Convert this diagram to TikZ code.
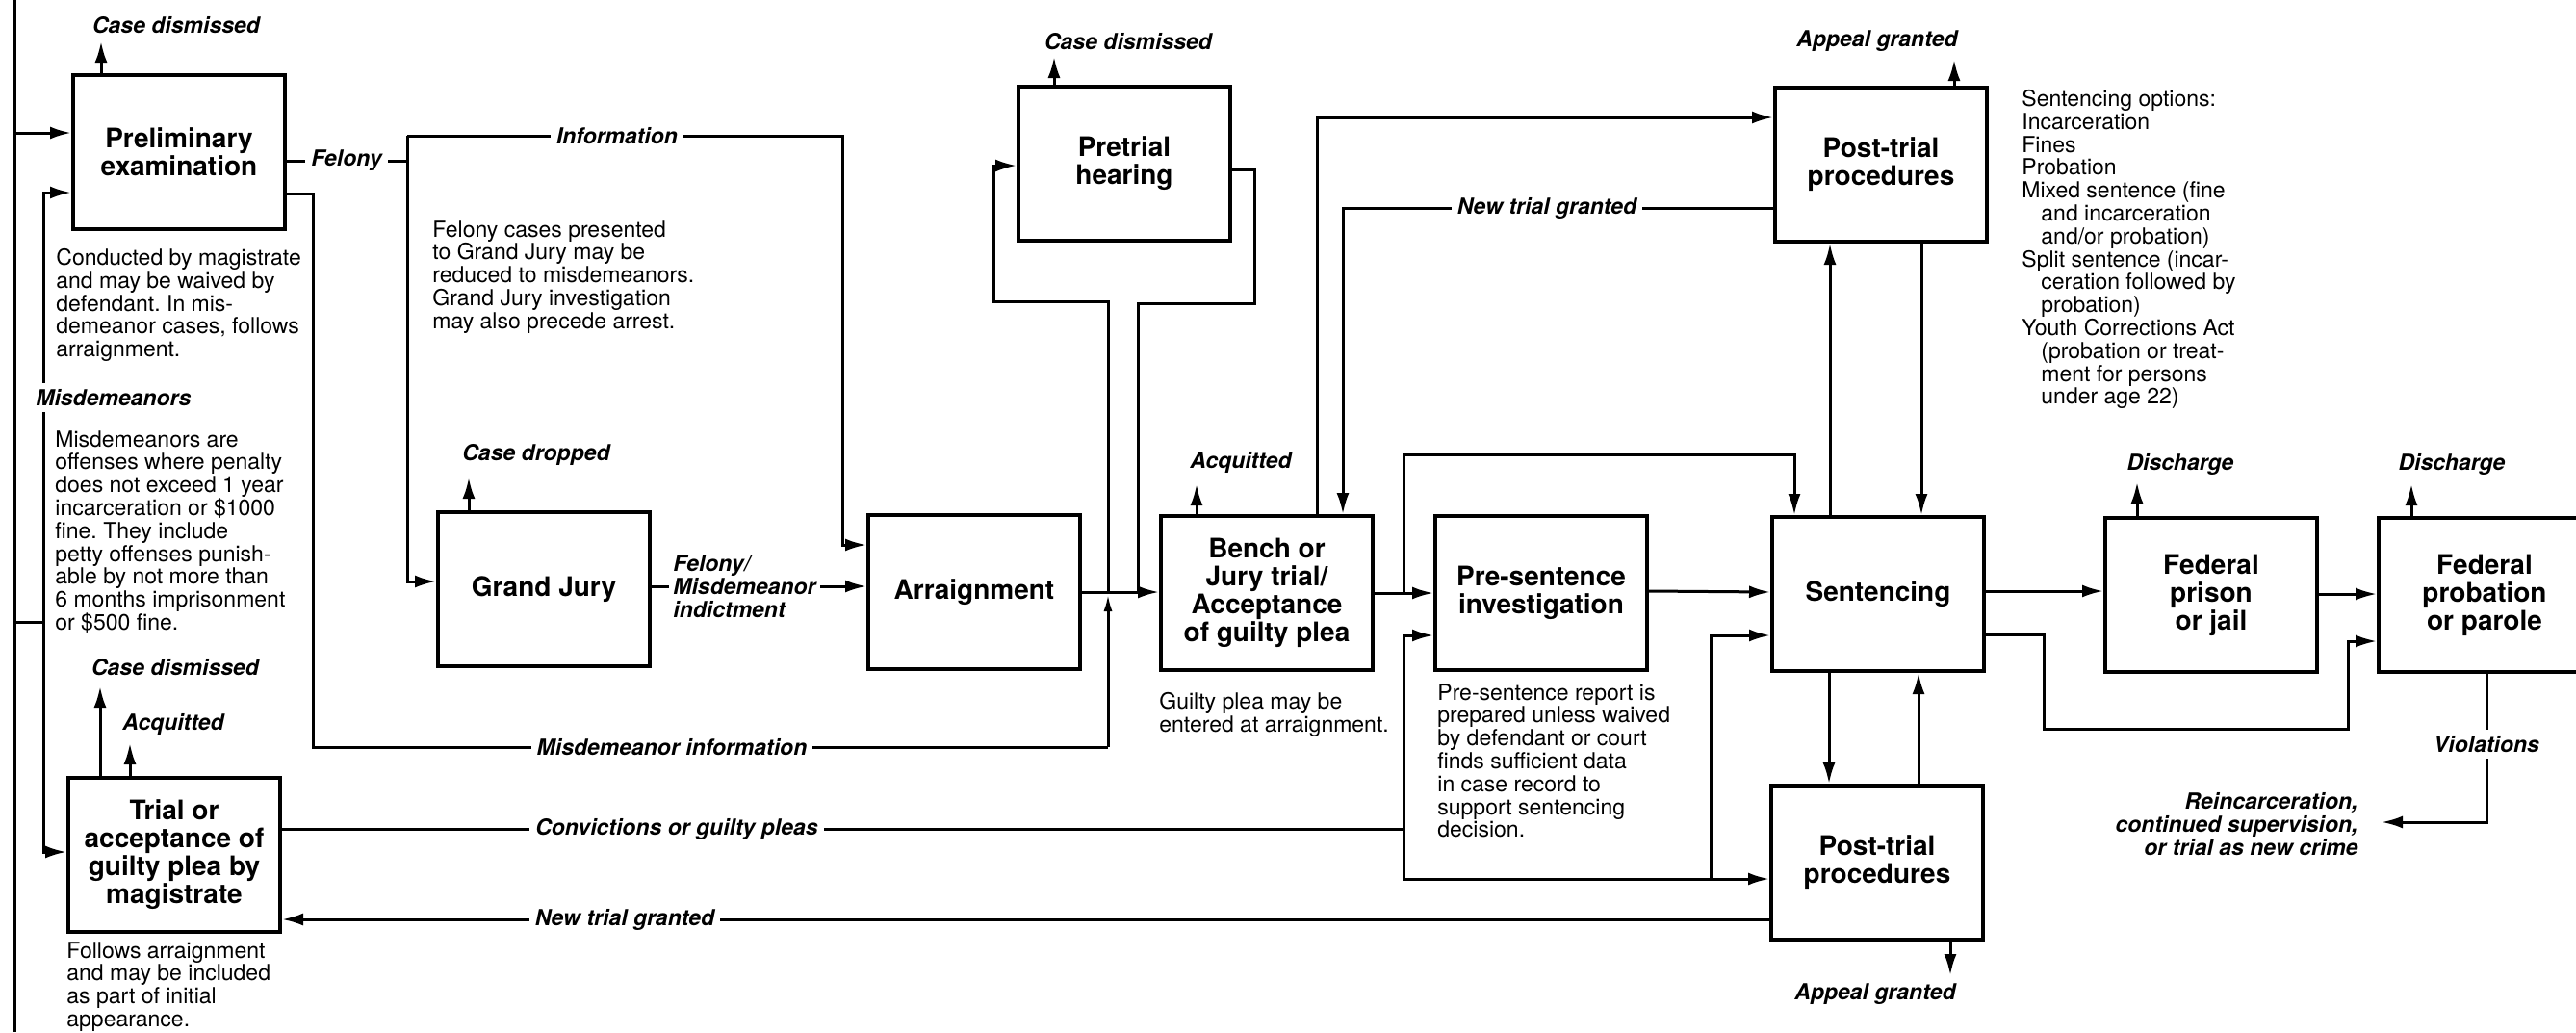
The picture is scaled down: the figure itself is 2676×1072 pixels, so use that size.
\documentclass[tikz,border=0pt]{standalone}
\usepackage{fontspec}
\setmainfont{TeX Gyre Heros}
\usepackage{tikz}
\usetikzlibrary{calc}
\usetikzlibrary{arrows.meta}

\newcommand{\stagefont}{\fontsize{14}{14.5}\selectfont\bfseries}
\newcommand{\flowfont}{\fontsize{11.5}{12}\selectfont\bfseries\itshape}
\newcommand{\notefont}{\fontsize{11.5}{11.9}\selectfont}
\frenchspacing

\tikzset{
    stage/.style={draw=black, line width=2pt, minimum width=110pt, minimum height=80pt, align=center, inner sep=0pt, font=\stagefont},
    flowlabel/.style={font=\flowfont, inner sep=1pt},
    gaplabel/.style={font=\flowfont, fill=white, inner sep=3pt},
    note/.style={font=\notefont, align=left, anchor=north west, inner sep=0pt},
    flow/.style={line width=1.5pt},
    >={Latex[length=11pt,width=6.5pt]},
}

\begin{document}
\begin{tikzpicture}[x=0.5pt, y=-0.5pt]

    \useasboundingbox (0,0) rectangle (2676,1072);

    % stages
    \node [stage] (prelim_exam) at (186,158) {Preliminary\\examination};
    \node [stage] (grand_jury) at (565,612) {Grand Jury};
    \node [stage] (arraignment) at (1012,615) {Arraignment};
    \node [stage] (pretrial) at (1168,170) {Pretrial\\hearing};
    \node [stage] (bench_trial) at (1316,616) {Bench or\\Jury trial/\\Acceptance\\of guilty plea};
    \node [stage] (pre_sentence) at (1601,616) {Pre-sentence\\investigation};
    \node [stage] (post_top) at (1954,171) {Post-trial\\procedures};
    \node [stage] (sentencing) at (1951,617) {Sentencing};
    \node [stage] (post_bot) at (1950,896) {Post-trial\\procedures};
    \node [stage] (fed_prison) at (2297,618) {Federal\\prison\\or jail};
    \node [stage] (fed_probation) at (2581,618) {Federal\\probation\\or parole};
    \node [stage] (magistrate_trial) at (181,888) {Trial or\\acceptance of\\guilty plea by\\magistrate};

    % notes
    \node [note] (note_prelim) at (58,258) {Conducted by magistrate\\and may be waived by\\defendant. In mis-\\demeanor cases, follows\\arraignment.};
    \node [note] (note_misd) at (57,447) {Misdemeanors are\\offenses where penalty\\does not exceed 1 year\\incarceration or \$1000\\fine. They include\\petty offenses punish-\\able by not more than\\6 months imprisonment\\or \$500 fine.};
    \node [note] (note_grand) at (449,229) {Felony cases presented\\to Grand Jury may be\\reduced to misdemeanors.\\Grand Jury investigation\\may also precede arrest.};
    \node [note] (note_trial) at (69,978) {Follows arraignment\\and may be included\\as part of initial\\appearance.};
    \node [note] (note_bench) at (1204,719) {Guilty plea may be\\entered at arraignment.};
    \node [note] (note_report) at (1493,710) {Pre-sentence report is\\prepared unless waived\\by defendant or court\\finds sufficient data\\in case record to\\support sentencing\\decision.};
    \node [note] (note_options) at (2100,93) {Sentencing options:\\Incarceration\\Fines\\Probation\\Mixed sentence (fine\\\hspace*{10pt}and incarceration\\\hspace*{10pt}and/or probation)\\Split sentence (incar-\\\hspace*{10pt}ceration followed by\\\hspace*{10pt}probation)\\Youth Corrections Act\\\hspace*{10pt}(probation or treat-\\\hspace*{10pt}ment for persons\\\hspace*{10pt}under age 22)};

    % entry from the left edge
    \coordinate (edge_top) at (15,0);
    \coordinate (edge_bot) at (15,1072);
    \coordinate (edge_in) at (15,138);
    \coordinate (misd_join) at (45,646);
    \draw[flow] (edge_top) -- (edge_bot);
    \draw[flow,->] (edge_in) -- (edge_in -| prelim_exam.west);
    \draw[flow] (edge_bot |- misd_join) -- (misd_join);
    \draw[flow,->] (misd_join) |- ($(prelim_exam.west)+(0,42)$);
    \draw[flow,->] (misd_join) |- ($(magistrate_trial.west)+(0,-3)$);
    \node [gaplabel, anchor=west] (misdemeanors) at (31,413) {Misdemeanors};

    % preliminary examination
    \node [flowlabel] (dismissed_prelim) at (183,26) {Case dismissed};
    \coordinate (dismissed_prelim_tip) at (105,43);
    \draw[flow,->] (dismissed_prelim_tip |- prelim_exam.north) -- (dismissed_prelim_tip);

    \coordinate (felony_join) at (423,167);
    \coordinate (info_top) at (423,141);
    \coordinate (info_corner) at (875,141);
    \draw[flow] (prelim_exam.east |- felony_join) -- (felony_join);
    \node [gaplabel] (felony) at (360,167) {Felony};
    \draw[flow,->] (info_top) |- ($(grand_jury.west)+(0,-8)$);
    \draw[flow,->] (info_top) -- (info_corner) |- ($(arraignment.west)+(0,-49)$);
    \node [gaplabel] (information) at (641,141) {Information};

    \coordinate (misd_info_a) at (325,201);
    \coordinate (misd_info_b) at (325,776);
    \coordinate (misd_info_c) at (1151,776);
    \coordinate (arr_join) at (1151,617);
    \draw[flow] (prelim_exam.east |- misd_info_a) -- (misd_info_a) -- (misd_info_b) -- (misd_info_c);
    \draw[flow,-{Latex[open,length=9pt,width=4.5pt]}] (misd_info_c) -- (arr_join);
    \node [gaplabel] (misd_information) at (698,776) {Misdemeanor information};

    % grand jury
    \node [flowlabel] (case_dropped) at (557,472) {Case dropped};
    \coordinate (case_dropped_tip) at (487,496);
    \draw[flow,->] (case_dropped_tip |- grand_jury.north) -- (case_dropped_tip);
    \draw[flow,->] ($(grand_jury.east)+(0,-3)$) -- ($(arraignment.west)+(0,-6)$);
    \node [gaplabel, align=left, anchor=west, inner sep=2pt] (indictment) at (695,609) {Felony/\\Misdemeanor\\indictment};

    % arraignment and pretrial hearing
    \coordinate (pretrial_left) at (1032,313);
    \coordinate (pretrial_right) at (1303,315);
    \coordinate (arr_return) at (1182,617);
    \draw[flow,->] (arraignment.east) -- (bench_trial.west |- arraignment.east);
    \draw[flow,->] (arr_join) |- (pretrial_left) |- ($(pretrial.west)+(0,2)$);
    \draw[flow] ($(pretrial.east)+(0,6)$) -| (pretrial_right) -| (arr_return);
    \node [flowlabel] (dismissed_pretrial) at (1172,43) {Case dismissed};
    \coordinate (dismissed_pretrial_tip) at (1095,59);
    \draw[flow,->] (dismissed_pretrial_tip |- pretrial.north) -- (dismissed_pretrial_tip);

    % trial
    \node [flowlabel] (acquitted_bench) at (1289,480) {Acquitted};
    \coordinate (acquitted_bench_tip) at (1243,503);
    \draw[flow,->] (acquitted_bench_tip |- bench_trial.north) -- (acquitted_bench_tip);
    \coordinate (bench_loop) at (1368,122);
    \draw[flow,->] (bench_loop |- bench_trial.north) -- (bench_loop) -- (bench_loop -| post_top.west);
    \coordinate (new_trial_top) at (1395,216);
    \draw[flow,->] (new_trial_top -| post_top.west) -- (new_trial_top) -- (new_trial_top |- bench_trial.north);
    \node [gaplabel] (new_trial_label_top) at (1607,216) {New trial granted};

    \draw[flow,->] (bench_trial.east) -- (pre_sentence.west);
    \coordinate (bench_join) at (1458,616);
    \coordinate (bench_up) at (1458,472);
    \draw[flow,->] (bench_join) -- (bench_up) -| ($(sentencing.north)+(-87,0)$);
    \draw[flow,->] ($(pre_sentence.east)+(0,-2)$) -- ($(sentencing.west)+(0,-2)$);

    % convictions from the magistrate
    \coordinate (conv_join) at (1458,861);
    \coordinate (conv_low) at (1458,913);
    \coordinate (conv_sent) at (1777,913);
    \draw[flow] ($(magistrate_trial.east)+(0,-27)$) -- (conv_join);
    \node [gaplabel] (convictions) at (703,861) {Convictions or guilty pleas};
    \draw[flow,->] (conv_join) |- ($(pre_sentence.west)+(0,44)$);
    \draw[flow,->] (conv_join) -- (conv_low) -- (conv_low -| post_bot.west);
    \draw[flow,->] (conv_sent) |- ($(sentencing.west)+(0,43)$);

    \draw[flow,->] ($(post_bot.west)+(0,59)$) -- ($(magistrate_trial.east)+(0,67)$);
    \node [gaplabel] (new_trial_label_bot) at (649,955) {New trial granted};

    \node [flowlabel] (dismissed_trial) at (182,693) {Case dismissed};
    \coordinate (dismissed_trial_tip) at (104,713);
    \draw[flow,->] (dismissed_trial_tip |- magistrate_trial.north) -- (dismissed_trial_tip);
    \node [flowlabel] (acquitted_trial) at (180,752) {Acquitted};
    \coordinate (acquitted_trial_tip) at (135,772);
    \draw[flow,->] (acquitted_trial_tip |- magistrate_trial.north) -- (acquitted_trial_tip);

    % sentencing and post-trial procedures
    \draw[flow,->] ($(sentencing.north)+(-50,0)$) -- ($(post_top.south)+(-53,0)$);
    \draw[flow,->] ($(post_top.south)+(42,0)$) -- ($(sentencing.north)+(45,0)$);
    \draw[flow,->] ($(sentencing.south)+(-51,0)$) -- ($(post_bot.north)+(-50,0)$);
    \draw[flow,->] ($(post_bot.north)+(43,0)$) -- ($(sentencing.south)+(42,0)$);

    \node [flowlabel] (appeal_top) at (1950,43) {Appeal granted};
    \coordinate (appeal_top_tip) at (2030,62);
    \draw[flow,->] (appeal_top_tip |- post_top.north) -- (appeal_top_tip);
    \node [flowlabel] (appeal_bot) at (1948,1033) {Appeal granted};
    \coordinate (appeal_bot_tip) at (2026,1013);
    \draw[flow,->] (appeal_bot_tip |- post_bot.south) -- (appeal_bot_tip);

    % corrections
    \draw[flow,->] ($(sentencing.east)+(0,-3)$) -- ($(fed_prison.west)+(0,-4)$);
    \draw[flow,->] ($(fed_prison.east)+(0,-1)$) -- ($(fed_probation.west)+(0,-1)$);
    \coordinate (bypass_a) at (2123,757);
    \coordinate (bypass_b) at (2439,757);
    \draw[flow,->] ($(sentencing.east)+(0,42)$) -| (bypass_a) -- (bypass_b) |- ($(fed_probation.west)+(0,48)$);

    \node [flowlabel] (discharge_prison) at (2265,482) {Discharge};
    \coordinate (discharge_prison_tip) at (2220,501);
    \draw[flow,->] (discharge_prison_tip |- fed_prison.north) -- (discharge_prison_tip);
    \node [flowlabel] (discharge_probation) at (2547,482) {Discharge};
    \coordinate (discharge_probation_tip) at (2505,503);
    \draw[flow,->] (discharge_probation_tip |- fed_probation.north) -- (discharge_probation_tip);

    \coordinate (violation_corner) at (2583,854);
    \coordinate (violation_tip) at (2474,854);
    \draw[flow,->] (violation_corner |- fed_probation.south) -- (violation_corner) -- (violation_tip);
    \node [gaplabel] (violations) at (2583,773) {Violations};
    \node [flowlabel, align=right, anchor=east] (reincarceration) at (2452,856) {Reincarceration,\\continued supervision,\\or trial as new crime};

\end{tikzpicture}
\end{document}
